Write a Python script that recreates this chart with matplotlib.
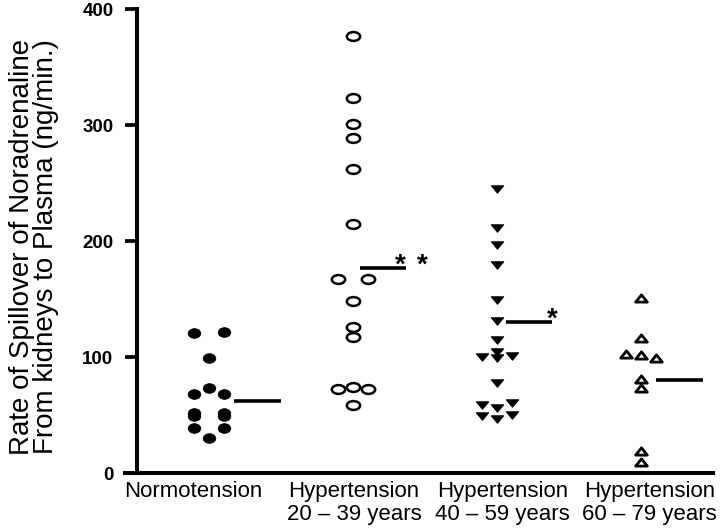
import matplotlib
matplotlib.use("Agg")
import matplotlib.pyplot as plt
from matplotlib.path import Path
from matplotlib.transforms import Affine2D, blended_transform_factory
import numpy as np

plt.rcParams['font.family'] = ['Liberation Sans', 'DejaVu Sans']

# ---------------- data ----------------
categories = ["Normotension",
              "Hypertension\n20 – 39 years",
              "Hypertension\n40 – 59 years",
              "Hypertension\n60 – 79 years"]

normotension = [121, 121.5, 99, 73, 68, 68, 52, 52, 49, 49, 39, 39, 30]
hyp_20_39 = [377, 323, 301, 289, 262, 214.5, 167, 167, 148, 126, 117, 72, 74, 72, 58.6]
hyp_40_59 = [245, 211, 196.5, 179, 149, 131, 115, 104, 100, 99, 101, 77.6, 59, 60, 56, 49, 46.5, 50]
hyp_60_79 = [151, 116, 102.6, 101.7, 99, 81, 73, 19, 9.5]

group_means = [62, 177, 130, 80]

y_ticks = [0, 100, 200, 300, 400]
y_label = "Rate of Spillover of Noradrenaline\nFrom kidneys to Plasma (ng/min.)"

# ---------------- layout (horizontal spread of overlapping points) ----------------
spread_normo = [-1, 1, 0, 0, -1, 1, -1, 1, -1, 1, -1, 1, 0]
spread_20_39 = [0, 0, 0, 0, 0, 0, -1, 1, 0, 0, 0, -1, 0, 1, 0]
spread_40_59 = [0, 0, 0, 0, 0, 0, 0, 0, -1, 0, 1, 0, -1, 1, 0, -1, 0, 1]
spread_60_79 = [0, 0, -1, 0, 1, 0, 0, 0, 0]
step = 0.102

mean_start = [0.174, 0.046, 0.060, 0.104]
mean_width = 0.324
label_x = [0.889, 2.007, 3.04, 4.06]

# ---------------- markers ----------------
ellipse_filled = Path.unit_circle().transformed(Affine2D().scale(1.0, 0.77))
ellipse_open = Path.unit_circle().transformed(Affine2D().scale(1.0, 0.66))
tri_down = Path([(-1, 0.6), (1, 0.6), (0, -0.6), (-1, 0.6)],
                [Path.MOVETO, Path.LINETO, Path.LINETO, Path.CLOSEPOLY])
tri_up = Path([(-1, -0.62), (1, -0.62), (0, 0.62), (-1, -0.62)],
              [Path.MOVETO, Path.LINETO, Path.LINETO, Path.CLOSEPOLY])

fig = plt.figure(figsize=(7.2, 5.32), dpi=100)
ax = fig.add_axes([137 / 720, 1 - 473 / 532, (713 - 137) / 720, (473 - 9) / 532])

groups = [normotension, hyp_20_39, hyp_40_59, hyp_60_79]
spreads = [spread_normo, spread_20_39, spread_40_59, spread_60_79]
styles = [
    dict(marker=ellipse_filled, markersize=9.0, markerfacecolor='black', markeredgecolor='black', markeredgewidth=0.6),
    dict(marker=ellipse_open, markersize=9.6, markerfacecolor='white', markeredgecolor='black', markeredgewidth=1.8),
    dict(marker=tri_down, markersize=8.8, markerfacecolor='black', markeredgecolor='black', markeredgewidth=0.8),
    dict(marker=tri_up, markersize=8.4, markerfacecolor='white', markeredgecolor='black', markeredgewidth=2.0),
]

for i, (vals, spr, st) in enumerate(zip(groups, spreads, styles)):
    xs = (i + 1) + np.array(spr) * step
    ax.plot(xs, vals, linestyle='none', **st, zorder=3)
    x0 = (i + 1) + mean_start[i]
    ax.plot([x0, x0 + mean_width], [group_means[i], group_means[i]],
            color='black', lw=2.6, solid_capstyle='butt', zorder=2)

# significance asterisks
ax.text(2.326, 173, "*", fontsize=20, fontweight='bold', ha='center', va='baseline')
ax.text(2.479, 173, "*", fontsize=20, fontweight='bold', ha='center', va='baseline')
ax.text(3.382, 126, "*", fontsize=20, fontweight='bold', ha='center', va='baseline')

ax.set_xlim(0.5, 4.5)
ax.set_ylim(0, 400)
ax.set_yticks(y_ticks)
ax.set_yticklabels([str(t) for t in y_ticks], fontsize=13.5, fontweight='bold')
ax.tick_params(axis='y', length=9, width=2.7, pad=8, direction='out')
ax.set_xticks([])

for side in ['top', 'right']:
    ax.spines[side].set_visible(False)
ax.spines['left'].set_linewidth(2.9)
ax.spines['bottom'].set_linewidth(2.9)
ax.spines['bottom'].set_bounds(0.5 - 12 / 144, 4.5)

# category labels under the axis
trans = blended_transform_factory(ax.transData, ax.transAxes)
for xl, lab in zip(label_x, categories):
    ax.text(xl, -0.018, lab, transform=trans, ha='center', va='top',
            fontsize=16, linespacing=1.08, multialignment='center')

# y-axis label, two lines in one text
fig.text(34 / 720, 1 - 247 / 532, y_label, rotation=90, ha='center', va='center',
         fontsize=20, linespacing=0.86, multialignment='center')

fig.savefig("out.png", dpi=100)
